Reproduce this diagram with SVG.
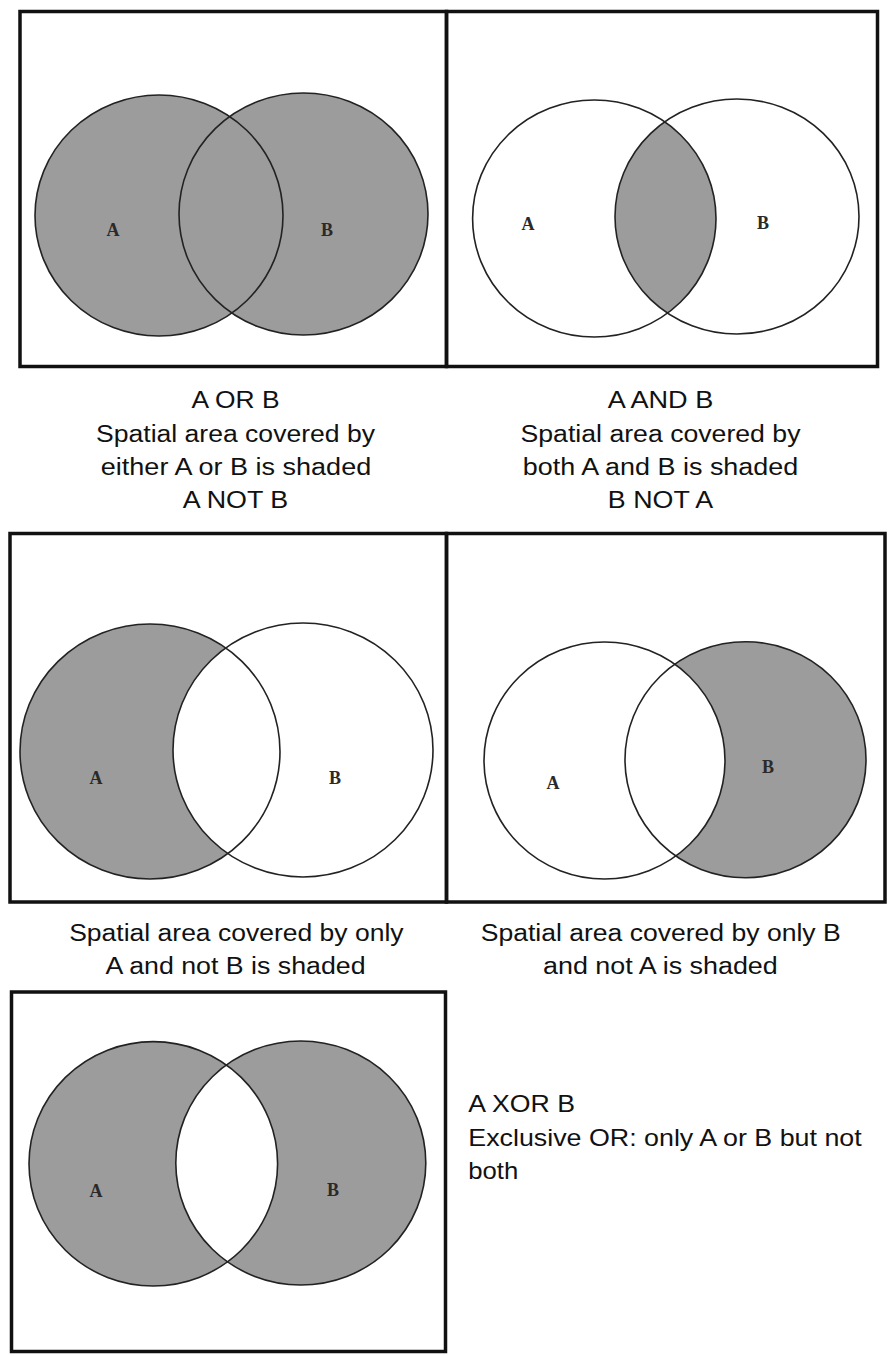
<svg xmlns="http://www.w3.org/2000/svg" width="889" height="1356" viewBox="0 0 889 1356">
<style>
.frame{fill:none;stroke:#111;stroke-width:3.5}
.sh{fill:#9c9c9c;stroke:none}
.wh{fill:#ffffff;stroke:none}
.ol{fill:none;stroke:#222;stroke-width:1.6}
.lbl{font-family:"Liberation Serif","DejaVu Serif",serif;font-size:18px;font-weight:bold;fill:#2a2a2a;text-anchor:middle}
.cap{font-family:"Liberation Sans",Arial,sans-serif;font-size:23.5px;fill:#111;text-anchor:middle}
.xcap{font-family:"Liberation Sans",Arial,sans-serif;font-size:24.5px;fill:#111}
</style>
<defs>
<clipPath id="clipB2"><ellipse cx="737" cy="216.5" rx="122" ry="117.5"/></clipPath>
<clipPath id="clipB5"><ellipse cx="300.8" cy="1163" rx="125" ry="122"/></clipPath>
</defs>
<rect width="889" height="1356" fill="#ffffff"/>

<g id="panel-or">
<ellipse class="sh" cx="159" cy="215.5" rx="124" ry="120.5"/>
<ellipse class="sh" cx="303.5" cy="214" rx="124.5" ry="121"/>
<ellipse class="ol" cx="159" cy="215.5" rx="124" ry="120.5"/>
<ellipse class="ol" cx="303.5" cy="214" rx="124.5" ry="121"/>
<text class="lbl" x="113" y="236">A</text>
<text class="lbl" x="327" y="236">B</text>
<rect class="frame" x="20" y="11.5" width="426.5" height="355"/>
</g>

<g id="panel-and">
<ellipse class="sh" cx="594.3" cy="218.5" rx="121.7" ry="118.5" clip-path="url(#clipB2)"/>
<ellipse class="ol" cx="594.3" cy="218.5" rx="121.7" ry="118.5"/>
<ellipse class="ol" cx="737" cy="216.5" rx="122" ry="117.5"/>
<text class="lbl" x="528" y="230">A</text>
<text class="lbl" x="763" y="229">B</text>
<rect class="frame" x="446.5" y="11.5" width="431" height="355"/>
</g>

<g id="panel-anotb">
<ellipse class="sh" cx="150" cy="751.5" rx="130" ry="127.5"/>
<ellipse class="wh" cx="303" cy="750" rx="130" ry="127"/>
<ellipse class="ol" cx="150" cy="751.5" rx="130" ry="127.5"/>
<ellipse class="ol" cx="303" cy="750" rx="130" ry="127"/>
<text class="lbl" x="96" y="784">A</text>
<text class="lbl" x="335" y="784">B</text>
<rect class="frame" x="10" y="533.5" width="436.5" height="368.5"/>
</g>

<g id="panel-bnota">
<ellipse class="sh" cx="745.5" cy="759.7" rx="120.5" ry="118"/>
<ellipse class="wh" cx="604.5" cy="760.5" rx="120.5" ry="118.5"/>
<ellipse class="ol" cx="604.5" cy="760.5" rx="120.5" ry="118.5"/>
<ellipse class="ol" cx="745.5" cy="759.7" rx="120.5" ry="118"/>
<text class="lbl" x="553" y="789">A</text>
<text class="lbl" x="768" y="773">B</text>
<rect class="frame" x="446.5" y="533.5" width="438.5" height="368.5"/>
</g>

<g id="panel-xor">
<ellipse class="sh" cx="153.3" cy="1163.8" rx="124.3" ry="122.2"/>
<ellipse class="sh" cx="300.8" cy="1163" rx="125" ry="122"/>
<ellipse class="wh" cx="153.3" cy="1163.8" rx="124.3" ry="122.2" clip-path="url(#clipB5)"/>
<ellipse class="ol" cx="153.3" cy="1163.8" rx="124.3" ry="122.2"/>
<ellipse class="ol" cx="300.8" cy="1163" rx="125" ry="122"/>
<text class="lbl" x="96" y="1197">A</text>
<text class="lbl" x="333" y="1196">B</text>
<rect class="frame" x="11.5" y="992" width="434" height="359.5"/>
</g>

<g id="captions">
<text class="cap" x="235.5" y="408" textLength="88" lengthAdjust="spacingAndGlyphs">A OR B</text>
<text class="cap" x="235.5" y="442" textLength="279" lengthAdjust="spacingAndGlyphs">Spatial area covered by</text>
<text class="cap" x="236" y="475" textLength="270.4" lengthAdjust="spacingAndGlyphs">either A or B is shaded</text>
<text class="cap" x="235.5" y="508" textLength="105.5" lengthAdjust="spacingAndGlyphs">A NOT B</text>
<text class="cap" x="660.5" y="408" textLength="105.5" lengthAdjust="spacingAndGlyphs">A AND B</text>
<text class="cap" x="660.5" y="442" textLength="280" lengthAdjust="spacingAndGlyphs">Spatial area covered by</text>
<text class="cap" x="660.5" y="475" textLength="275.5" lengthAdjust="spacingAndGlyphs">both A and B is shaded</text>
<text class="cap" x="660.5" y="508" textLength="105.3" lengthAdjust="spacingAndGlyphs">B NOT A</text>
<text class="cap" x="236.4" y="941" textLength="334.4" lengthAdjust="spacingAndGlyphs">Spatial area covered by only</text>
<text class="cap" x="235.5" y="974" textLength="260.2" lengthAdjust="spacingAndGlyphs">A and not B is shaded</text>
<text class="cap" x="660.7" y="941" textLength="360" lengthAdjust="spacingAndGlyphs">Spatial area covered by only B</text>
<text class="cap" x="660.4" y="974" textLength="234.8" lengthAdjust="spacingAndGlyphs">and not A is shaded</text>
<text class="xcap" x="468.3" y="1112" textLength="106.7" lengthAdjust="spacingAndGlyphs">A XOR B</text>
<text class="xcap" x="468.3" y="1146" textLength="393.4" lengthAdjust="spacingAndGlyphs">Exclusive OR: only A or B but not</text>
<text class="xcap" x="468.3" y="1179" textLength="50" lengthAdjust="spacingAndGlyphs">both</text>
</g>
</svg>
